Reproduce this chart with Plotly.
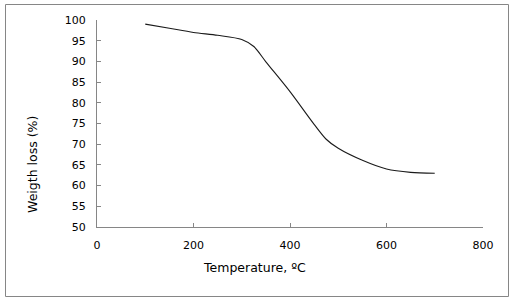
import plotly.graph_objects as go

temperature = [100, 150, 200, 250, 300, 325, 350, 400, 450, 475, 500, 550, 600, 650, 700]
weight = [99.0, 98.0, 97.0, 96.3, 95.3, 93.6, 89.9, 82.7, 74.8, 71.2, 69.0, 66.1, 64.0, 63.2, 63.0]

x_ticks = [0, 200, 400, 600, 800]
y_ticks = [50, 55, 60, 65, 70, 75, 80, 85, 90, 95, 100]

W, H = 513, 300
L, R, T, B = 97, 30, 20, 73
pw, ph = W - L - R, H - T - B

fig = go.Figure(go.Scatter(x=temperature, y=weight, mode="lines",
                           line=dict(color="#1a1a1a", width=1.1, shape="spline", smoothing=0.8),
                           showlegend=False))

font = dict(family="DejaVu Sans", size=11, color="#000000")
tfont = dict(family="DejaVu Sans", size=12.5, color="#000000")
fig.update_layout(
    width=W, height=H, margin=dict(l=L, r=R, t=T, b=B),
    paper_bgcolor="white", plot_bgcolor="white", font=font,
    xaxis=dict(range=[0, 800], tickvals=x_ticks, showgrid=False, zeroline=False,
               showline=True, linecolor="#868686", linewidth=1,
               ticks="inside", ticklen=4, tickcolor="#868686", ticklabelstandoff=8),
    yaxis=dict(range=[50, 100], tickvals=y_ticks, showgrid=False, zeroline=False,
               showline=True, linecolor="#868686", linewidth=1,
               ticks="inside", ticklen=4, tickcolor="#868686", ticklabelstandoff=8),
    shapes=[dict(type="rect", xref="paper", yref="paper",
                 x0=(5.5 - L) / pw, x1=(508.5 - L) / pw,
                 y0=(H - B - 296.5) / ph, y1=(H - B - 4.5) / ph,
                 line=dict(color="#868686", width=1), fillcolor="rgba(0,0,0,0)")],
    annotations=[
        dict(text="Temperature, ºC", xref="paper", yref="paper",
             x=(254 - L) / pw, y=(H - B - 267) / ph, showarrow=False,
             xanchor="center", yanchor="middle", font=tfont),
        dict(text="Weigth loss (%)", xref="paper", yref="paper",
             x=(32 - L) / pw, y=(H - B - 165) / ph, showarrow=False, textangle=-90,
             xanchor="center", yanchor="middle", font=tfont),
    ],
)

fig.write_html("out.html", config={"displayModeBar": False},
               post_script="document.body.style.margin='0';")
